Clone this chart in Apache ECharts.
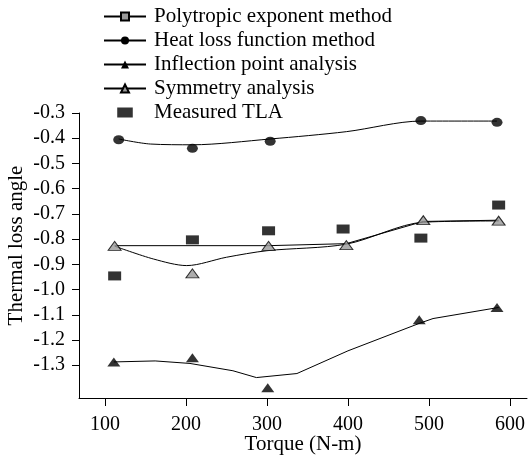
<!DOCTYPE html>
<html><head><meta charset="utf-8">
<script src="https://cdn.jsdelivr.net/npm/echarts@6/dist/echarts.min.js"></script>
<style>html,body{margin:0;padding:0;background:#fff}#c{width:531px;height:456px}</style>
</head><body><div id="c"></div>
<script>
var xTicks = [100, 200, 300, 400, 500, 600];
var yTicks = [-1.3, -1.2, -1.1, -1.0, -0.9, -0.8, -0.7, -0.6, -0.5, -0.4, -0.3];

var polytropicLine = [[112,-0.826],[302,-0.826],[398,-0.818],[493,-0.730],[586,-0.725]];
var heatLossLine = [[117,-0.403],[156,-0.423],[208,-0.426],[304,-0.403],[398,-0.374],[490,-0.332],[584,-0.332]];
var heatLossPts = [[117,-0.406],[208,-0.440],[304,-0.412],[490,-0.330],[584,-0.337]];
var inflectionLine = [[111,-1.287],[162,-1.283],[205,-1.293],[258,-1.322],[287,-1.349],[337,-1.333],[400,-1.243],[489,-1.133],[505,-1.115],[586,-1.071]];
var inflectionPts = [[111,-1.287],[208,-1.270],[301,-1.389],[488,-1.120],[584,-1.071]];
var symmetryLine = [[112,-0.828],[160,-0.879],[201,-0.905],[250,-0.872],[300,-0.846],[398,-0.820],[493,-0.733],[586,-0.728]];
var symmetryPts = [[112,-0.827],[208,-0.936],[302,-0.827],[398,-0.824],[493,-0.725],[586,-0.727]];
var measuredTLA = [[112,-0.946],[208,-0.803],[302,-0.767],[394,-0.760],[490,-0.796],[586,-0.665]];

var font = 'Liberation Serif';
var chart = echarts.init(document.getElementById('c'), null, {renderer:'canvas'});
var lineStyle = {color:'#000', width:1};
chart.setOption({
  animation:false,
  backgroundColor:'#fff',
  textStyle:{fontFamily:font, color:'#000'},
  grid:{left:79, right:4, top:113, bottom:58, containLabel:false, outerBoundsMode:'none'},
  legend:{
    orient:'vertical', left:98, top:1, itemWidth:42, itemHeight:10, itemGap:3,
    textStyle:{fontFamily:font, fontSize:21, color:'#000', lineHeight:21, padding:[0,0,0,3]},
    data:['Polytropic exponent method','Heat loss function method','Inflection point analysis','Symmetry analysis',
      {name:'Measured TLA', icon:'path://M0,0h14v9h-14z', itemStyle:{color:'#000', borderWidth:0}}]
  },
  xAxis:{
    type:'value', min:68, max:621,
    name:'Torque (N-m)', nameLocation:'middle', nameGap:36, nameMoveOverlap:false,
    nameTextStyle:{fontFamily:font, fontSize:21, color:'#000'},
    axisLine:{show:true, lineStyle:{color:'#000', width:1}},
    axisTick:{show:true, inside:false, length:8, customValues:xTicks, lineStyle:{color:'#000'}},
    axisLabel:{customValues:xTicks, margin:17, fontFamily:font, fontSize:20, color:'#000'},
    splitLine:{show:false}
  },
  yAxis:{
    type:'value', min:-1.43, max:-0.3,
    name:'Thermal loss angle', nameLocation:'middle', nameGap:52, nameRotate:90, nameMoveOverlap:false,
    nameTextStyle:{fontFamily:font, fontSize:21, color:'#000', padding:[0,0,0,20]},
    axisLine:{show:true, lineStyle:{color:'#000', width:1}},
    axisTick:{show:true, inside:false, length:7, customValues:yTicks, lineStyle:{color:'#000'}},
    axisLabel:{customValues:yTicks, margin:14, fontFamily:font, fontSize:20, color:'#000',
      formatter:function(v){return v.toFixed(1);}},
    splitLine:{show:false}
  },
  series:[
    {name:'Polytropic exponent method', type:'line', data:polytropicLine, showSymbol:false, symbol:'rect',
      itemStyle:{color:'#999', borderColor:'#000', borderWidth:1}, lineStyle:lineStyle, z:2},
    {name:'Heat loss function method', type:'line', data:heatLossLine, showSymbol:false, symbol:'circle', smooth:0.3,
      itemStyle:{color:'#000'}, lineStyle:lineStyle, z:2},
    {name:'Heat loss function method', type:'scatter', data:heatLossPts, symbol:'circle', symbolSize:[11,9],
      itemStyle:{color:'#000'}, z:3},
    {name:'Inflection point analysis', type:'line', data:inflectionLine, showSymbol:false, symbol:'triangle',
      itemStyle:{color:'#000'}, lineStyle:lineStyle, z:2},
    {name:'Inflection point analysis', type:'scatter', data:inflectionPts, symbol:'triangle', symbolSize:[13,9],
      itemStyle:{color:'#000'}, z:3},
    {name:'Symmetry analysis', type:'line', data:symmetryLine, showSymbol:false, symbol:'triangle', smooth:0.3,
      itemStyle:{color:'#999', borderColor:'#000', borderWidth:1}, lineStyle:lineStyle, z:2},
    {name:'Symmetry analysis', type:'scatter', data:symmetryPts, symbol:'triangle', symbolSize:[13,9],
      itemStyle:{color:'#999', borderColor:'#000', borderWidth:1}, z:3},
    {name:'Measured TLA', type:'scatter', data:measuredTLA, symbol:'rect', symbolSize:[13,9],
      itemStyle:{color:'#000'}, z:3}
  ]
});
</script></body></html>
